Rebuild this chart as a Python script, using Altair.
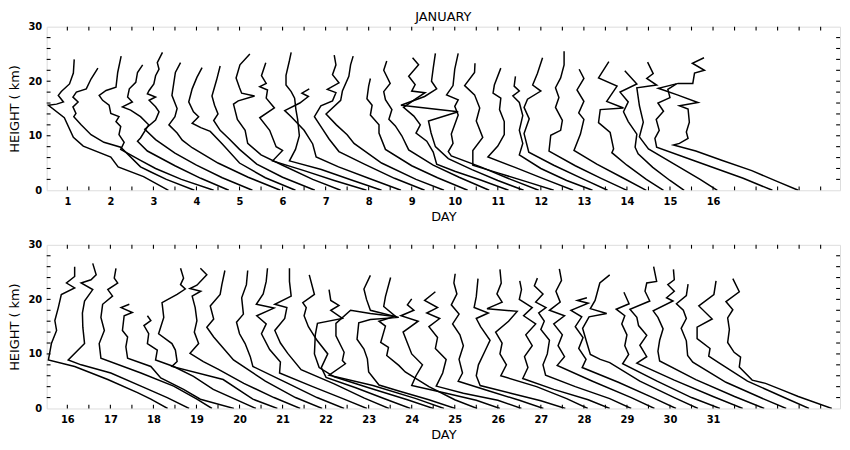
import altair as alt
import numpy as np
import pandas as pd

# ---------- top panel: soundings, days 1-16 (x in DAY units, h in km) ----------
T1 = [[3.35,0],[2.77,2.5],[2.18,4.3],[2.01,6.1],[1.37,8.1],[1.14,9.7],[0.93,13.3],[0.56,15.6],[0.75,15.8],[0.91,16.2],[0.79,17.4],[0.86,18.1],[1.05,19.5],[1.14,21.5],[1.16,24.0]]
T2 = [[3.95,0],[3.30,2.0],[2.93,3.4],[2.70,4.3],[2.24,7.9],[1.85,8.8],[1.55,10.2],[1.32,12.0],[1.15,13.5],[1.20,14.1],[1.13,15.3],[1.25,16.2],[1.13,17.1],[1.21,18.0],[1.44,18.6],[1.55,20.4],[1.71,22.4]]
T3 = [[4.40,0],[3.65,2.0],[3.05,4.0],[2.70,5.5],[2.24,7.5],[2.32,8.8],[2.20,10.2],[2.24,11.7],[2.13,12.6],[2.20,13.5],[2.01,14.1],[1.97,15.6],[1.82,16.5],[1.74,17.4],[1.90,18.3],[2.13,18.9],[2.17,21.6],[2.25,24.6]]
T4 = [[4.75,0],[4.10,2.2],[3.50,4.5],[2.86,7.2],[2.63,9.0],[2.70,9.6],[2.89,12.0],[2.70,13.5],[2.47,14.7],[2.28,15.3],[2.51,16.2],[2.40,17.1],[2.44,18.6],[2.59,19.8],[2.63,21.6],[2.75,23.0]]
T5 = [[5.30,0],[4.60,2.3],[4.00,4.6],[3.50,6.8],[3.05,9.3],[2.80,11.2],[3.05,12.9],[3.13,14.4],[3.05,15.3],[2.90,16.5],[3.05,17.1],[2.86,17.7],[2.90,18.3],[3.01,19.5],[3.05,21.0],[3.13,22.2],[3.09,23.4],[3.21,25.3]]
T6 = [[5.95,0],[5.20,2.4],[4.50,5.0],[3.90,7.8],[3.67,9.2],[3.55,10.5],[3.36,12.0],[3.50,13.5],[3.55,15.0],[3.43,17.4],[3.47,19.5],[3.51,21.6],[3.63,23.4]]
T7 = [[6.30,0],[5.60,2.3],[5.00,5.0],[4.60,8.5],[4.32,10.8],[4.10,11.5],[3.90,12.3],[4.05,13.5],[3.93,14.4],[3.82,16.2],[3.90,18.6],[4.01,20.7],[4.13,22.5]]
T8 = [[6.75,0],[6.00,2.4],[5.40,4.8],[5.00,7.5],[4.75,9.5],[4.55,11.0],[4.40,12.8],[4.50,14.0],[4.42,15.6],[4.36,17.3],[4.47,20.3],[4.55,22.8]]
T9 = [[7.35,0],[6.70,2.0],[6.00,4.6],[5.50,6.5],[5.19,8.6],[5.13,11.0],[4.95,13.0],[4.86,15.8],[4.97,16.4],[5.35,17.3],[5.05,17.8],[5.00,18.8],[4.92,20.6],[5.01,23.0],[5.24,25.0]]
T10 = [[7.95,0],[7.20,1.8],[6.50,3.6],[5.77,5.4],[6.00,7.3],[5.85,8.0],[5.70,11.0],[5.47,13.3],[5.81,15.1],[5.62,16.9],[5.65,18.4],[5.47,19.0],[5.62,19.6],[5.51,21.0],[5.61,23.4]]
T11 = [[8.30,0],[7.60,1.9],[6.90,3.8],[6.16,5.4],[6.30,7.5],[6.39,10.0],[6.35,13.0],[6.31,14.8],[6.28,16.9],[6.20,18.1],[6.08,19.3],[6.08,21.1],[6.16,23.8],[6.20,25.3]]
T12 = [[8.75,0],[8.00,2.2],[7.30,4.3],[6.78,6.1],[6.70,8.5],[6.50,11.0],[6.20,13.5],[6.05,14.6],[6.40,16.0],[6.60,17.2],[6.45,17.8],[6.62,18.6]]
T13 = [[9.30,0],[8.60,2.2],[7.90,4.8],[7.31,7.1],[7.08,9.4],[6.93,11.2],[6.74,13.5],[6.89,15.5],[7.16,16.4],[7.24,17.9],[7.04,18.5],[7.31,19.7],[7.16,21.2],[7.24,23.0],[7.20,24.8]]
T14 = [[9.75,0],[9.10,2.0],[8.30,5.0],[7.66,8.6],[7.50,10.2],[7.25,12.0],[7.01,14.0],[7.35,16.5],[7.39,18.2],[7.54,20.9],[7.58,23.0],[7.64,24.6]]
T15 = [[10.30,0],[9.60,2.3],[9.00,4.5],[8.39,7.5],[8.24,10.5],[8.24,12.0],[8.04,13.8],[8.08,15.6],[7.96,16.8],[8.00,19.1],[8.04,20.5]]
T16 = [[10.80,0],[10.10,2.4],[9.50,4.6],[8.93,7.4],[8.77,10.0],[8.62,11.8],[8.47,13.0],[8.54,14.8],[8.39,16.6],[8.35,18.1],[8.50,19.6],[8.35,22.0],[8.42,23.7]]
T17 = [[11.25,0],[10.60,1.9],[10.00,3.5],[9.58,4.8],[9.50,7.0],[9.35,9.0],[9.10,10.5],[9.20,12.0],[9.05,13.6],[8.81,15.2],[9.10,16.8],[9.31,17.9],[9.00,18.2],[9.08,19.4],[8.93,20.9],[9.16,23.0],[9.02,24.3]]
T18 = [[11.60,0],[11.00,1.8],[10.40,3.8],[9.85,5.8],[9.55,8.0],[9.45,10.5],[9.39,12.7],[10.08,14.4],[8.75,15.6],[9.30,17.2],[9.58,18.6],[9.46,20.0],[9.50,22.4],[9.55,25.1]]
T19 = [[11.95,0],[11.30,2.0],[10.60,4.3],[9.92,6.3],[9.85,7.1],[9.96,8.6],[9.92,10.3],[10.08,13.8],[10.00,15.4],[10.08,16.6],[9.81,17.5],[9.96,19.2],[10.00,22.2],[10.08,25.1]]
T20 = [[12.30,0],[11.70,1.5],[11.00,3.2],[10.42,4.6],[10.42,7.3],[10.65,9.7],[10.50,12.7],[10.58,15.1],[10.46,17.5],[10.23,19.2],[10.46,21.6],[10.47,23.3]]
T21 = [[12.75,0],[12.10,2.0],[11.40,4.2],[10.77,6.1],[11.00,8.1],[11.15,10.2],[11.15,12.6],[11.04,14.8],[11.07,16.9],[10.89,17.8],[10.92,19.3],[11.07,22.4]]
T22 = [[13.20,0],[12.60,1.8],[12.00,4.0],[11.50,6.5],[11.58,8.6],[11.50,11.0],[11.58,13.7],[11.50,16.1],[11.35,17.3],[11.50,18.2],[11.38,19.1],[11.41,20.9]]
T23 = [[13.55,0],[13.00,2.0],[12.30,4.6],[11.72,7.0],[11.61,10.4],[11.73,13.1],[11.61,15.2],[11.69,16.7],[12.00,18.2],[11.81,19.3],[11.92,21.4],[12.04,24.3]]
T24 = [[14.00,0],[13.40,2.2],[12.80,4.5],[12.19,7.2],[12.23,10.1],[12.46,11.0],[12.50,12.8],[12.34,15.2],[12.42,17.0],[12.34,18.8],[12.46,20.6],[12.54,23.0],[12.54,25.5]]
T25 = [[14.45,0],[13.90,2.3],[13.30,4.8],[12.77,7.3],[12.92,10.3],[13.00,13.0],[12.88,14.2],[13.00,16.3],[12.84,18.4],[13.00,20.5],[12.89,22.2]]
T26 = [[14.85,0],[14.45,2.0],[14.00,4.6],[13.65,6.9],[13.69,7.6],[13.61,10.6],[13.34,12.4],[13.38,14.8],[13.92,15.1],[13.53,16.3],[13.77,19.1],[13.34,20.6],[13.58,23.6]]
T27 = [[15.33,0],[15.00,1.8],[14.60,4.2],[14.26,6.7],[14.19,7.9],[14.23,10.3],[14.03,12.6],[13.92,14.4],[14.03,16.2],[13.84,18.0],[14.23,19.5],[13.95,21.9]]
T28 = [[16.10,0],[15.70,2.0],[15.10,4.8],[14.50,7.6],[14.29,9.8],[14.38,12.5],[14.29,15.5],[14.23,18.8],[14.69,19.3],[14.46,20.5],[14.61,21.4],[14.48,23.5]]
T29 = [[17.38,0],[16.70,2.2],[15.50,5.6],[14.69,7.9],[14.65,9.5],[14.75,11.0],[14.68,13.0],[14.85,14.5],[14.72,16.0],[15.00,17.0],[14.95,18.5],[15.15,19.5]]
T30 = [[17.98,0],[17.50,1.6],[16.90,3.6],[16.20,5.5],[15.60,7.2],[15.08,8.3],[15.22,8.6],[15.42,9.5],[15.38,10.7],[15.45,12.5],[15.42,14.9],[15.22,15.5],[15.65,16.1],[15.17,17.5],[14.73,18.7],[15.19,19.6],[15.53,19.6],[15.57,21.5],[15.80,22.0],[15.52,23.3],[15.79,24.3]]

# ---------- bottom panel: soundings, days 16-31 ----------
B1 = [[18.33,0],[17.94,1.7],[17.63,2.9],[16.94,5.3],[16.17,7.7],[15.56,8.9],[15.63,11.9],[15.75,14.3],[15.71,16.1],[15.79,18.5],[15.86,20.9],[16.17,22.1],[15.98,23.0],[16.17,24.2],[16.17,26.0]]
B2 = [[18.83,0],[18.32,2.0],[17.71,4.1],[17.01,6.5],[16.32,8.0],[16.02,8.9],[16.40,11.9],[16.36,14.9],[16.35,17.5],[16.40,19.7],[16.59,21.8],[16.32,23.0],[16.55,23.6],[16.67,24.5],[16.59,26.6]]
B3 = [[19.36,0],[19.01,1.7],[18.47,4.1],[17.71,6.5],[16.78,9.2],[16.74,11.9],[16.86,14.3],[16.78,16.7],[16.82,19.1],[17.05,20.6],[16.94,21.8],[17.17,23.0],[17.09,23.9],[17.13,25.7]]
B4 = [[19.87,0],[19.09,1.7],[18.70,3.5],[18.17,5.6],[17.94,7.7],[17.40,9.2],[17.36,11.3],[17.40,13.1],[17.28,14.3],[17.32,17.0],[17.51,17.6],[17.25,18.5],[17.44,19.1]]
B5 = [[20.38,0],[19.39,3.5],[18.93,5.9],[18.47,7.7],[18.05,8.9],[18.09,10.7],[17.86,11.9],[17.89,13.7],[17.78,15.2],[17.94,16.1],[17.86,17.0]]
B6 = [[20.88,0],[20.31,1.7],[19.62,5.3],[18.43,7.7],[18.55,8.6],[18.51,10.7],[18.43,11.9],[18.12,13.7],[18.24,16.7],[18.20,19.4],[18.55,20.9],[18.74,21.9],[18.63,22.7],[18.70,23.9],[18.63,25.7]]
B7 = [[21.41,0],[20.80,2.0],[20.10,4.6],[19.50,7.2],[19.16,8.6],[18.85,10.1],[19.05,11.9],[18.95,14.0],[19.01,16.1],[18.97,18.5],[18.90,20.6],[19.10,21.5],[18.85,22.0],[19.01,22.6],[19.24,24.5],[19.09,25.7]]
B8 = [[21.92,0],[21.30,2.0],[20.60,5.0],[19.86,8.9],[19.63,11.0],[19.40,13.1],[19.24,14.9],[19.40,16.4],[19.32,18.8],[19.55,20.9],[19.59,22.7],[19.66,25.3]]
B9 = [[22.43,0],[21.80,2.0],[21.10,4.7],[20.31,7.7],[20.25,9.5],[20.13,11.9],[20.00,13.7],[19.93,15.8],[20.09,17.3],[20.05,20.3],[20.16,22.7],[20.19,25.3]]
B10 = [[22.96,0],[22.40,1.8],[21.70,4.0],[20.93,6.5],[20.95,8.5],[20.70,10.8],[20.51,13.7],[20.62,15.5],[20.40,17.0],[20.80,18.4],[20.39,19.1],[20.55,21.0],[20.62,23.3],[20.65,25.7]]
B11 = [[23.47,0],[22.90,1.9],[22.20,4.5],[21.43,7.1],[21.12,10.1],[20.95,12.0],[20.82,14.3],[21.05,16.5],[21.10,18.5],[20.82,19.1],[21.20,20.6],[21.16,23.3],[21.16,25.7]]
B12 = [[23.97,0],[23.40,1.7],[22.70,3.8],[22.01,5.7],[21.90,7.5],[22.05,10.0],[21.80,12.5],[21.60,15.0],[21.50,17.0],[21.55,18.5],[21.47,19.4],[21.74,20.9],[21.62,24.5]]
B13 = [[24.50,0],[23.90,1.6],[23.00,3.8],[22.20,5.8],[21.85,7.5],[21.74,10.0],[21.76,13.5],[21.81,15.6],[22.39,16.5],[22.12,18.0],[22.31,18.9],[22.12,19.8],[22.08,21.8]]
B14 = [[24.75,0],[24.10,1.8],[23.10,4.2],[22.08,6.1],[22.46,8.2],[22.39,8.8],[22.43,10.3],[22.24,13.3],[22.24,15.6],[22.58,18.0],[23.04,17.4],[23.66,16.8]]
B15 = [[25.01,0],[24.40,1.6],[23.70,3.2],[23.24,4.3],[23.00,6.7],[22.97,9.1],[22.89,10.9],[22.73,12.7],[22.77,15.7],[23.04,16.3],[23.70,16.7],[23.04,18.0],[22.95,20.0],[22.89,21.9],[23.04,24.4]]
B16 = [[25.52,0],[25.00,1.6],[24.40,4.0],[23.85,6.7],[23.70,7.9],[23.42,9.7],[23.46,11.2],[23.28,12.1],[23.39,15.1],[23.24,16.0],[23.62,16.9],[23.35,18.7],[23.39,20.5],[23.51,24.0]]
B17 = [[26.05,0],[25.50,1.5],[24.80,2.8],[24.00,4.2],[24.10,6.0],[24.25,8.0],[24.00,10.0],[23.90,12.0],[23.80,14.0],[24.15,16.0],[23.75,17.0],[24.05,18.0],[23.90,19.0],[24.00,20.1]]
B18 = [[26.55,0],[26.00,1.5],[25.20,2.8],[24.57,4.1],[24.72,6.5],[24.80,9.0],[24.55,11.0],[24.60,13.0],[24.40,15.0],[24.65,16.5],[24.35,17.5],[24.60,18.5],[24.30,19.8],[24.55,21.4]]
B19 = [[27.06,0],[26.50,1.5],[25.80,3.2],[25.08,5.0],[25.18,6.5],[25.10,9.0],[25.20,11.5],[25.12,13.5],[24.95,15.5],[25.10,17.3],[24.92,19.0],[25.05,21.0],[24.98,23.0],[25.01,24.7]]
B20 = [[27.57,0],[27.00,1.4],[26.30,2.8],[25.59,4.2],[25.50,6.0],[25.55,8.0],[25.70,10.5],[25.82,12.5],[25.60,15.0],[25.50,16.5],[25.78,17.5],[25.45,18.5],[25.50,20.5],[25.54,23.8]]
B21 = [[28.09,0],[27.60,1.8],[26.90,4.0],[26.07,6.0],[26.20,8.0],[26.05,10.0],[26.10,12.0],[25.95,14.0],[26.25,16.0],[26.45,17.8],[25.75,18.3],[26.10,19.5],[25.98,21.0],[26.08,23.0],[26.05,25.5]]
B22 = [[28.60,0],[28.10,1.6],[27.30,3.5],[26.58,5.5],[26.70,7.5],[26.62,9.5],[26.80,11.5],[26.65,13.5],[26.88,15.5],[26.60,17.0],[26.80,18.5],[26.50,20.0],[26.55,21.8],[26.51,23.4]]
B23 = [[29.10,0],[28.60,1.8],[27.80,4.0],[27.11,6.1],[27.05,8.0],[27.15,10.0],[27.20,12.5],[27.00,14.5],[27.08,16.0],[26.95,17.5],[27.12,18.5],[26.88,19.5],[27.05,21.0],[26.85,22.5],[26.92,23.9]]
B24 = [[29.64,0],[29.10,2.0],[28.20,5.0],[27.38,7.9],[27.55,9.5],[27.40,11.5],[27.50,13.5],[27.30,15.5],[27.55,17.0],[27.20,18.0],[27.45,19.5],[27.35,21.5],[27.48,23.5],[27.43,25.6]]
B25 = [[30.14,0],[29.60,2.0],[28.80,4.8],[27.96,7.5],[28.05,9.0],[27.88,11.0],[27.98,13.0],[27.80,15.0],[27.95,16.8],[27.70,18.0],[28.10,19.3],[27.85,19.8],[28.07,20.3]]
B26 = [[30.65,0],[30.10,2.0],[29.30,5.0],[28.60,8.4],[28.38,9.0],[28.15,9.9],[28.07,12.0],[27.97,14.7],[28.12,16.8],[28.53,17.4],[28.15,18.3],[28.26,19.8],[28.37,23.0],[28.60,24.5]]
B27 = [[31.16,0],[30.50,2.0],[29.70,5.0],[28.90,8.2],[29.04,9.9],[28.95,11.5],[29.00,13.5],[28.88,15.5],[28.95,17.0],[28.75,18.2],[29.05,19.2],[28.93,21.3]]
B28 = [[31.69,0],[31.00,2.2],[30.10,5.2],[29.23,8.3],[29.46,9.5],[29.30,11.6],[29.46,13.4],[29.27,15.2],[29.23,16.7],[29.07,18.2],[29.53,19.7],[29.42,21.5],[29.46,23.0],[29.69,23.3],[29.62,26.0]]
B29 = [[32.19,0],[31.50,2.2],[30.60,5.3],[29.76,8.7],[29.72,10.5],[29.76,12.5],[29.84,14.6],[29.72,16.7],[29.61,17.9],[30.07,19.7],[29.92,20.3],[30.10,21.5],[29.95,22.7],[30.10,23.6],[30.08,25.5]]
B30 = [[32.70,0],[32.10,2.0],[31.30,4.8],[30.53,8.5],[30.41,9.7],[30.38,12.4],[30.26,14.7],[30.38,16.5],[30.31,18.0],[30.15,19.2],[30.38,20.7],[30.42,22.8]]
B31 = [[33.23,0],[32.60,2.2],[31.80,5.0],[31.13,8.4],[30.90,9.6],[30.93,11.0],[30.63,12.8],[30.63,14.9],[30.98,16.4],[30.67,18.8],[31.02,20.9],[31.07,23.4]]
B32 = [[33.76,0],[32.98,2.2],[32.60,3.4],[32.22,4.6],[31.91,5.2],[31.61,7.6],[31.64,9.4],[31.49,10.3],[31.34,12.1],[31.38,14.5],[31.34,16.6],[31.46,18.1],[31.30,19.6],[31.61,21.4],[31.46,23.8]]

TOP_PROFILES = [T1, T2, T3, T4, T5, T6, T7, T8, T9, T10, T11, T12, T13, T14, T15,
                T16, T17, T18, T19, T20, T21, T22, T23, T24, T25, T26, T27, T28, T29, T30]
BOTTOM_PROFILES = [B1, B2, B3, B4, B5, B6, B7, B8, B9, B10, B11, B12, B13, B14, B15, B16,
                   B17, B18, B19, B20, B21, B22, B23, B24, B25, B26, B27, B28, B29, B30,
                   B31, B32]

TOP_DAY_LABELS = list(range(1, 17))
BOTTOM_DAY_LABELS = list(range(16, 32))
HEIGHT_LABELS = [0, 10, 20, 30]
TOP_X_DOMAIN = [0.52, 18.95]
BOTTOM_X_DOMAIN = [15.52, 33.95]

FONT = "DejaVu Sans"


def profile_frame(profiles):
    rows = []
    for i, prof in enumerate(profiles):
        for j, (x, h) in enumerate(prof):
            rows.append({"p": i, "o": j, "x": x, "h": h})
    return pd.DataFrame(rows)


def tick_frame(xdom):
    lo, hi = xdom
    dx = 0.09
    rows = []
    for v in np.arange(np.ceil(lo * 2) / 2, hi, 0.5):
        if lo + 0.05 < v < hi - 0.05:
            rows.append({"x": v, "x2": v, "h": 0.0, "h2": 0.7})
            rows.append({"x": v, "x2": v, "h": 29.3, "h2": 30.0})
    for v in range(2, 30, 2):
        rows.append({"x": lo, "x2": lo + dx, "h": v, "h2": v})
        rows.append({"x": hi - dx, "x2": hi, "h": v, "h2": v})
    return pd.DataFrame(rows)


def panel(profiles, xdom, day_labels, title=None):
    xs = alt.Scale(domain=xdom, nice=False, zero=False)
    ys = alt.Scale(domain=[0, 30], nice=False, zero=False)
    xaxis = alt.Axis(values=day_labels, format="d", title="DAY", tickSize=0, domain=False,
                     grid=False, labelFont=FONT, labelFontSize=10, labelFontWeight="bold",
                     labelPadding=6, labelColor="black", titleFont=FONT, titleFontSize=13,
                     titleFontWeight="normal", titleColor="black", titlePadding=4)
    yaxis = alt.Axis(values=HEIGHT_LABELS, format="d", title="HEIGHT ( km)", tickSize=0,
                     domain=False, grid=False, labelFont=FONT, labelFontSize=10,
                     labelFontWeight="bold", labelPadding=5, labelColor="black",
                     titleFont=FONT, titleFontSize=13, titleFontWeight="normal",
                     titleColor="black", titlePadding=6)
    lines = alt.Chart(profile_frame(profiles)).mark_line(
        color="black", strokeWidth=1.5, clip=True
    ).encode(
        x=alt.X("x:Q", scale=xs, axis=xaxis),
        y=alt.Y("h:Q", scale=ys, axis=yaxis),
        detail="p:N",
        order="o:Q",
    )
    ticks = alt.Chart(tick_frame(xdom)).mark_rule(color="black", strokeWidth=1.1).encode(
        x=alt.X("x:Q", scale=xs, axis=xaxis),
        x2="x2:Q",
        y=alt.Y("h:Q", scale=ys, axis=yaxis),
        y2="h2:Q",
    )
    ch = alt.layer(lines, ticks).properties(width=800, height=165)
    if title:
        ch = ch.properties(title=alt.TitleParams(title, font=FONT, fontSize=13,
                                                 fontWeight="normal", color="black",
                                                 offset=-2, anchor="middle"))
    return ch


top = panel(TOP_PROFILES, TOP_X_DOMAIN, TOP_DAY_LABELS, title="JANUARY")
bottom = panel(BOTTOM_PROFILES, BOTTOM_X_DOMAIN, BOTTOM_DAY_LABELS)

chart = alt.vconcat(top, bottom, spacing=15).properties(padding=0).configure_view(
    stroke="black", strokeWidth=1.8
).configure(background="white")

chart.save("out.html", embed_options={"renderer": "svg", "actions": False})
